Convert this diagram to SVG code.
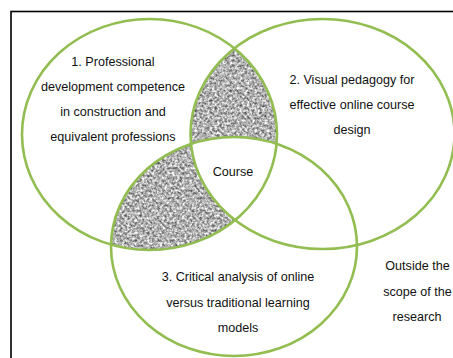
<svg xmlns="http://www.w3.org/2000/svg" width="453" height="358" viewBox="0 0 453 358">
<style>
.c{fill:none;stroke:#92BD50;stroke-width:2.6}
text{font-family:"Liberation Sans",Arial,sans-serif;font-size:12.6px;fill:#111;text-anchor:middle}
</style>
<defs>
<filter id="noise" filterUnits="userSpaceOnUse" x="0" y="0" width="453" height="358" color-interpolation-filters="sRGB">
<feTurbulence type="fractalNoise" baseFrequency="0.4" numOctaves="2" seed="7"/>
<feColorMatrix type="matrix" values="1.15 0 0 0 0.12  1.15 0 0 0 0.12  1.15 0 0 0 0.12  0 0 0 0 1"/>
<feGaussianBlur stdDeviation="0.35"/>
</filter>
<clipPath id="e1"><ellipse cx="149.5" cy="134.5" rx="127.5" ry="115.5"/></clipPath>
<clipPath id="e2"><ellipse cx="322.5" cy="134" rx="132" ry="115"/></clipPath>
<clipPath id="e3"><ellipse cx="234" cy="246.5" rx="123" ry="109.5"/></clipPath>
<mask id="not3" maskUnits="userSpaceOnUse" x="0" y="0" width="453" height="358"><rect width="453" height="358" fill="#fff"/><ellipse cx="234" cy="246.5" rx="123" ry="109.5" fill="#000"/></mask>
<mask id="not2" maskUnits="userSpaceOnUse" x="0" y="0" width="453" height="358"><rect width="453" height="358" fill="#fff"/><ellipse cx="322.5" cy="134" rx="132" ry="115" fill="#000"/></mask>
</defs>
<rect x="0" y="0" width="453" height="358" fill="#fff"/>
<rect x="11" y="11.5" width="470" height="370" fill="none" stroke="#000" stroke-width="1.6"/>
<g id="shade-top" clip-path="url(#e1)"><g clip-path="url(#e2)"><rect width="453" height="358" filter="url(#noise)" mask="url(#not3)"/></g></g>
<g id="shade-bottom" clip-path="url(#e1)"><g clip-path="url(#e3)"><rect width="453" height="358" filter="url(#noise)" mask="url(#not2)"/></g></g>
<g id="circle1">
<ellipse class="c" cx="149.5" cy="134.5" rx="127.5" ry="115.5"/>
<text x="113" y="66">1. Professional</text>
<text x="113" y="91">development competence</text>
<text x="113" y="116">in construction and</text>
<text x="113" y="141">equivalent professions</text>
</g>
<g id="circle2">
<ellipse class="c" cx="322.5" cy="134" rx="132" ry="115"/>
<text x="352" y="83.5">2. Visual pedagogy for</text>
<text x="352" y="108.5">effective online course</text>
<text x="352" y="133.5">design</text>
</g>
<g id="circle3">
<ellipse class="c" cx="234" cy="246.5" rx="123" ry="109.5"/>
<text x="238" y="281">3. Critical analysis of online</text>
<text x="238" y="307">versus traditional learning</text>
<text x="238" y="331.5">models</text>
</g>
<g id="course"><text x="233" y="176">Course</text></g>
<g id="outside">
<text x="417.5" y="270">Outside the</text>
<text x="417.5" y="296">scope of the</text>
<text x="417" y="321">research</text>
</g>
<g id="connectors"/>
</svg>
